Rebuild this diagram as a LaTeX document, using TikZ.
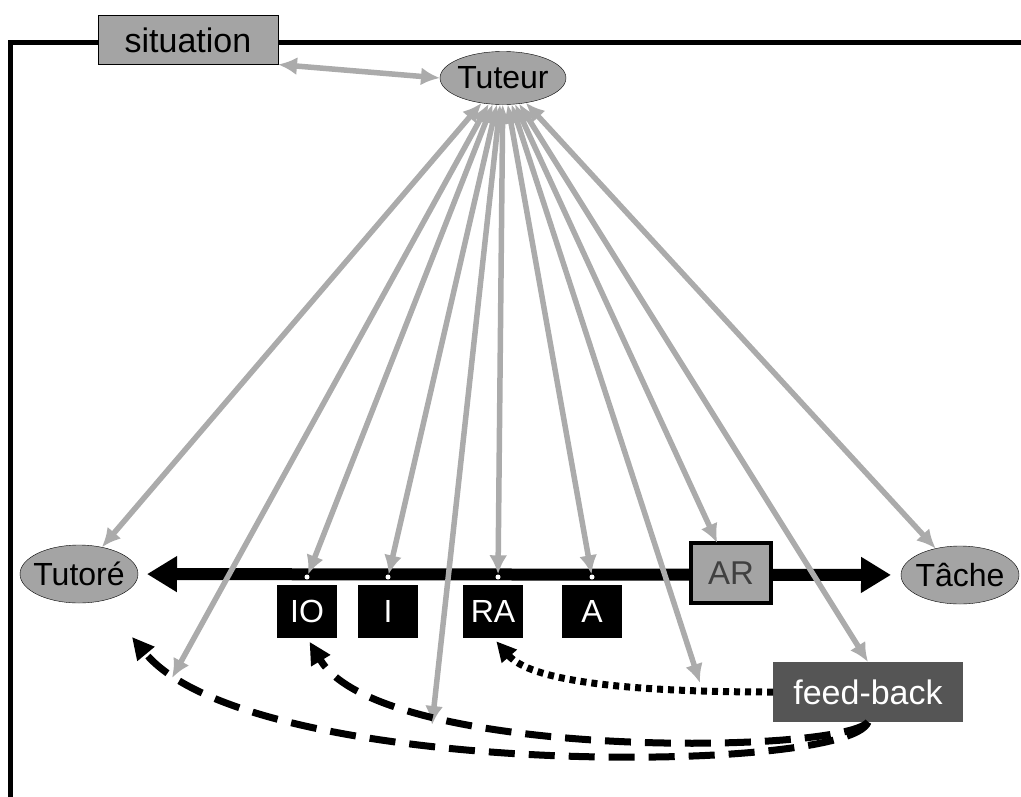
\documentclass[tikz,border=0pt]{standalone}
\usepackage{fontspec}
\setmainfont{Liberation Sans}
\usepackage{xcolor}
\usepackage{tikz}
\usetikzlibrary{arrows, arrows.meta, shapes.geometric}
\usepackage{tkz-graph}
\definecolor{grisnoeud}{HTML}{A4A4A4}
\definecolor{grisfleche}{HTML}{ABABAB}
\definecolor{grisfonce}{HTML}{555555}

\begin{document}
\begin{tikzpicture}[x=1pt, y=-1pt]
\useasboundingbox (0,0) rectangle (1021,796);
\GraphInit[vstyle=Normal]
\draw[line width=5pt] (1030,42) -- (10,42) -- (10,800);
\tikzset{point/.style={circle, fill=white, inner sep=0pt, minimum size=5pt},
  retour/.style={line width=7pt, dash pattern=on 26pt off 14pt, -{Triangle[length=22pt,width=21pt]}},
  pointille/.style={line width=7pt, dash pattern=on 6pt off 5pt, -{Triangle[length=20pt,width=19pt]}}}
\tikzset{VertexStyle/.style={draw, thin, fill=grisnoeud, rectangle, inner sep=0pt,
  minimum width=180pt, minimum height=49pt, font=\fontsize{34}{34}\selectfont}}
\Vertex[x=188,y=40,L={situation}]{sit}
\tikzset{VertexStyle/.style={draw, thin, fill=grisnoeud, ellipse, inner ysep=0pt, inner xsep=-5pt,
  minimum width=118pt, minimum height=58pt, font=\fontsize{32}{32}\selectfont}}
\Vertex[x=79,y=574,L={Tutoré}]{tutore}
\Vertex[x=960,y=575,L={Tâche}]{tache}
\tikzset{VertexStyle/.append style={minimum width=126pt, minimum height=53pt}}
\Vertex[x=503,y=78,L={Tuteur}]{tuteur}
\draw[black, line width=12pt, {Triangle[length=30pt,width=34pt]}-{Triangle[length=30pt,width=34pt]},
  shorten <=9pt, shorten >=10pt] (tutore) -- (tache);
\node[point] (pIO) at (307,577) {};
\node[point] (pI) at (388,577) {};
\node[point] (pRA) at (498,577) {};
\node[point] (pA) at (592,577) {};
\tikzset{VertexStyle/.style={rectangle, fill=black, text=white, inner sep=0pt,
  minimum width=60pt, minimum height=53pt, font=\fontsize{32}{32}\selectfont}}
\Vertex[x=307,y=611,L={IO}]{io}
\Vertex[x=388,y=611,L={I}]{i}
\Vertex[x=493,y=611,L={RA}]{ra}
\Vertex[x=592,y=611,L={A}]{a}
\tikzset{VertexStyle/.style={rectangle, draw=black, line width=4pt, fill=grisnoeud, text=black!75,
  inner sep=0pt, minimum width=80pt, minimum height=60pt, font=\fontsize{33}{33}\selectfont}}
\Vertex[x=731,y=573,L={AR}]{ar}
\tikzset{VertexStyle/.style={rectangle, fill=grisfonce, text=white, inner sep=0pt,
  minimum width=190pt, minimum height=60pt, font=\fontsize{34}{34}\selectfont}}
\Vertex[x=868,y=692,L={feed-back}]{fb}
\coordinate (libre1) at (172,678);
\coordinate (libre2) at (432,725);
\coordinate (libre3) at (700,683);
\coordinate (retourT) at (132,637);
\tikzset{EdgeStyle/.style={{Latex[length=19pt,width=18pt]}-{Latex[length=19pt,width=18pt]},
  draw=grisfleche, line width=5.5pt}}
\Edge(sit.south east)(tuteur.west)
\Edge(tuteur)(tutore)
\Edge(tuteur)(libre1)
\Edge(tuteur)(pIO)
\Edge(tuteur)(pI)
\Edge(tuteur)(libre2)
\Edge(tuteur)(pRA)
\Edge(tuteur)(pA)
\Edge(tuteur)(libre3)
\Edge(tuteur)(ar)
\Edge(tuteur)(fb.north)
\Edge(tuteur)(tache)
\draw[retour] (fb.south) .. controls (850,775) and (250,780) .. (retourT);
\draw[retour, shorten >=5pt] (fb.south) .. controls (840,755) and (380,760) .. (io.south);
\draw[pointille, shorten >=5pt] (fb.west) .. controls (620,692) and (530,680) .. (ra.south);
\end{tikzpicture}
\end{document}
